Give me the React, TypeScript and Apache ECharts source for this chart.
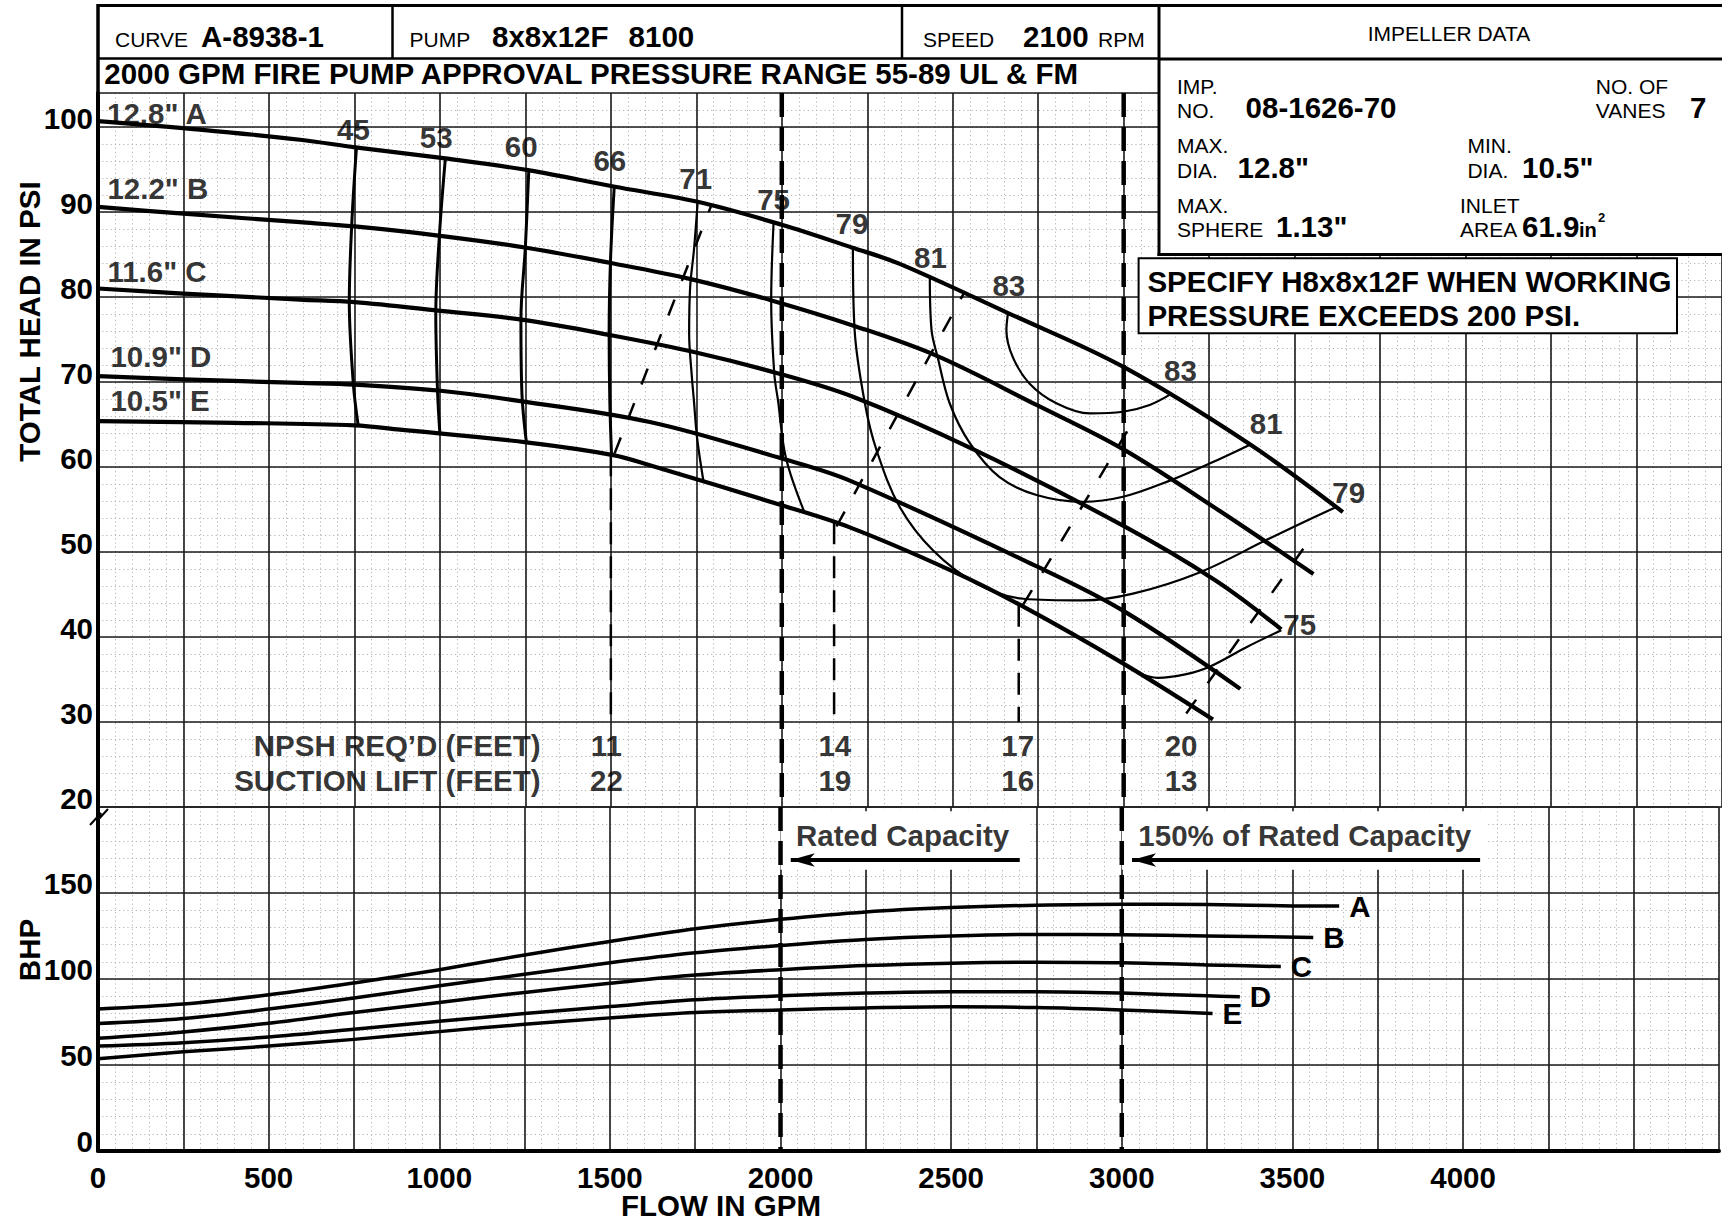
import React, { useEffect, useRef } from "react";
import * as echarts from "echarts";

const FONT = "'Liberation Sans', Arial, Helvetica, sans-serif";
const BOLD = 29.5;
const SMALL = 21;

// ---------------- data ----------------
const impellerNames = ["A", "B", "C", "D", "E"];
const impellerLabels = ['12.8" A', '12.2" B', '11.6" C', '10.9" D', '10.5" E'];
const impellerLabelPos = [[25, 101.6], [26, 92.75], [26, 83.05], [35, 73.05], [35, 67.85]];

// total head (psi) vs flow (gpm)
const headA = [[0, 100.7], [298, 99.7], [591, 98.5], [753, 97.6], [1016, 96.3], [1262, 94.9], [1508, 93.0], [1754, 91.2], [2000, 88.5], [2207, 85.8], [2345, 83.9], [2657, 78.2], [2998, 71.8], [3368, 62.7], [3641, 54.7]];
const headB = [[0, 90.6], [250, 89.8], [591, 88.8], [751, 88.3], [1001, 87.2], [1253, 85.8], [1500, 84.0], [1734, 82.1], [1970, 79.6], [2212, 76.6], [2452, 73.1], [2745, 67.3], [2998, 62.1], [3271, 55.1], [3555, 47.4]];
const headC = [[0, 81.0], [250, 80.4], [591, 79.7], [751, 79.4], [995, 78.4], [1244, 77.3], [1500, 75.5], [1746, 73.5], [1990, 71.0], [2212, 68.2], [2559, 62.1], [2998, 53.1], [3271, 46.6], [3461, 40.9]];
const headD = [[0, 70.7], [250, 70.3], [591, 69.9], [751, 69.7], [995, 69.0], [1210, 67.9], [1614, 65.3], [2000, 61.0], [2199, 58.4], [2746, 48.3], [2998, 43.1], [3341, 33.9]];
const headE = [[0, 65.4], [400, 65.2], [751, 64.9], [883, 64.4], [1253, 62.9], [1507, 61.4], [1614, 60.2], [2000, 55.5], [2199, 52.9], [2491, 47.9], [2705, 43.6], [2998, 36.9], [3261, 30.3]];
const headCurves = [headA, headB, headC, headD, headE];

// efficiency contours (%)
const eff45 = [[756, 97.6], [742, 88.4], [735, 79.4], [747, 69.7], [761, 64.9]];
const eff53 = [[1016, 96.3], [999, 87.5], [988, 78.0], [993, 69.0], [1000, 63.9]];
const eff60 = [[1260, 94.9], [1250, 85.9], [1237, 77.3], [1240, 68.6], [1253, 62.9]];
const eff66 = [[1510, 93.0], [1499, 84.3], [1495, 75.7], [1497, 67.8], [1502, 61.4]];
const eff71 = [[1754, 91.2], [1743, 85.5], [1732, 81.2], [1729, 75.7], [1737, 70.6], [1743, 67.8], [1752, 63.5], [1771, 58.3]];
const eff75L = [[1976, 88.8], [1969, 79.6], [1978, 71.0], [1989, 67.8], [2012, 61.1], [2067, 54.6]];
const eff75R = [[3040, 35.8], [3100, 35.2], [3180, 35.6], [3251, 36.5], [3359, 38.8], [3461, 40.8]];
const eff79 = [[2208, 85.7], [2213, 76.1], [2243, 67.5], [2277, 62.0], [2345, 55.3], [2442, 50.2], [2569, 46.3], [2706, 44.5], [2881, 44.3], [3027, 45.1], [3222, 47.6], [3417, 51.4], [3515, 53.3], [3622, 55.3]];
const eff81 = [[2433, 82.4], [2438, 76.1], [2456, 72.9], [2491, 67.5], [2550, 62.8], [2637, 58.8], [2745, 56.7], [2881, 55.9], [2998, 56.5], [3135, 58.4], [3251, 60.4], [3368, 62.6]];
const eff83 = [[2662, 78.2], [2657, 76.1], [2676, 72.9], [2725, 69.8], [2803, 67.5], [2901, 66.3], [2998, 66.5], [3076, 67.3], [3139, 68.6]];
const effHeavy = [eff45, eff53, eff60, eff66];
const effLight = [eff71, eff75L, eff75R, eff79, eff81, eff83];

const effLabels = ["45", "53", "60", "66", "71", "75", "79", "81", "83", "83", "81", "79", "75"];
const effLabelPos = [[747, 99.7], [989, 98.8], [1238, 97.75], [1497, 96.1], [1748, 93.9], [1976, 91.5], [2205, 88.6], [2435, 84.7], [2664, 81.4], [3166, 71.4], [3417, 65.1], [3658, 57.0], [3515, 41.5]];

// NPSH required lines
const npsh11 = [[1511, 61.6], [1794, 90.8]];
const npsh14 = [[2160, 53.0], [2532, 80.4]];
const npsh17 = [[2706, 43.8], [3040, 66.2]];
const npsh20 = [[3183, 31.0], [3554, 52.0]];
const npshDiagonals = [npsh11, npsh14, npsh17, npsh20];
const npshDrops = [[[1500, 61.5], [1500, 30]], [[2153, 53.5], [2153, 30]], [[2693, 43.8], [2693, 30]]];

const npshFlows = [1487, 2155, 2690, 3168];
const npshReq = ["11", "14", "17", "20"];
const suctionLift = ["22", "19", "16", "13"];
const npshRowHead = 27.2;
const liftRowHead = 23.1;
const rowTitles = ["NPSH REQ\u2019D (FEET)", "SUCTION LIFT (FEET)"];
const rowTitleFlow = 1296;

// rated capacity markers
const ratedFlows = [2000, 3000];
const capacityTexts = ["Rated Capacity", "150% of Rated Capacity"];
const capacityTextPos = [[2044, 183.3], [3047, 183.3]];
const capacityArrows = [[2701, 2030, 169.2], [4050, 3030, 169.2]]; // from, to, bhp
const capacityBoxes = [[2000, 197.5, 2725, 163.5], [3000, 197.5, 4070, 163.5]];

// brake horsepower vs flow
const bhpA = [[0, 82.5], [250, 85.4], [500, 90.8], [750, 97.7], [1000, 105.4], [1250, 114.0], [1500, 121.8], [1750, 129.2], [2000, 134.7], [2250, 139.0], [2500, 141.5], [2750, 142.9], [3000, 143.5], [3250, 143.3], [3500, 142.5], [3637, 142.4]];
const bhpB = [[0, 74.1], [250, 77.0], [500, 82.5], [750, 88.9], [1000, 96.1], [1250, 102.7], [1500, 109.4], [1750, 115.2], [2000, 119.5], [2250, 123.0], [2500, 125.0], [2750, 125.9], [3000, 125.7], [3250, 125.0], [3561, 124.2]];
const bhpC = [[0, 65.5], [250, 69.2], [500, 74.3], [750, 80.5], [1000, 86.4], [1250, 92.2], [1500, 97.5], [1750, 102.3], [2000, 105.4], [2250, 107.8], [2500, 109.2], [2750, 109.7], [3000, 109.4], [3250, 108.2], [3466, 107.2]];
const bhpD = [[0, 61.0], [250, 63.0], [500, 66.3], [750, 70.8], [1000, 75.4], [1250, 79.9], [1500, 84.0], [1750, 87.9], [2000, 90.2], [2250, 91.8], [2500, 92.6], [2750, 92.6], [3000, 91.8], [3250, 90.2], [3346, 89.7]];
const bhpE = [[0, 53.6], [250, 57.7], [500, 61.0], [750, 64.9], [1000, 69.4], [1250, 73.7], [1500, 77.4], [1750, 80.5], [2000, 82.0], [2250, 83.2], [2500, 83.8], [2750, 83.4], [3000, 82.0], [3266, 79.9]];
const bhpCurves = [bhpA, bhpB, bhpC, bhpD, bhpE];

// axes
const flowMin = 0, flowMax = 4750, flowMajor = 250, flowMinor = 50, flowLabelStep = 500, flowLabelMax = 4000;
const headMin = 20, headMax = 104, headMajor = 10, headMinor = 2, headLabelMax = 100;
const bhpMin = 0, bhpMax = 200, bhpMajor = 50, bhpMinor = 10, bhpLabelMax = 150;

// ---------------- option ----------------
const boldLabel = { color: "#000", fontFamily: FONT, fontWeight: "bold", fontSize: BOLD };
const majorSplit = { show: true, lineStyle: { color: "#1a1a1a", width: 1.6 } };
const minorSplit = { show: true, lineStyle: { color: "#b4b4b4", width: 1, type: [1.2, 3] } };
const hidden = { axisLine: { show: false }, axisTick: { show: false }, axisLabel: { show: false } };

function curve(data: number[][], width: number, xi: number, yi: number, dash?: number[], z = 5): any {
  return {
    type: "line", data, xAxisIndex: xi, yAxisIndex: yi, symbol: "none", showSymbol: false,
    smooth: 0.35, silent: true, z, animation: false,
    lineStyle: { color: "#000", width, type: dash || "solid", cap: "butt", join: "round" },
  };
}

function labels(pts: number[][], texts: string[], xi: number, yi: number, position: string, extra: any = {}): any {
  return {
    type: "scatter", xAxisIndex: xi, yAxisIndex: yi, symbolSize: 1, silent: true, z: 10, animation: false,
    itemStyle: { color: "rgba(0,0,0,0)" },
    data: pts.map((p, i) => ({ value: p, name: texts[i] })),
    label: { show: true, position, distance: 0, formatter: "{b}", ...boldLabel, ...extra },
  };
}

function buildGraphic(): any[] {
  const g: any[] = [];
  const Z = 100;
  const text = (t: string, x: number, y: number, size: number, bold: boolean, align = "left", rot = 0, lh = size) =>
    g.push({
      type: "text", x, y, rotation: rot, z: Z + 2, silent: true,
      style: { text: t, fontSize: size, lineHeight: lh, fontWeight: bold ? "bold" : "normal", fontFamily: FONT, fill: "#000", align, verticalAlign: "middle" },
    });
  const ln = (x1: number, y1: number, x2: number, y2: number, w: number) =>
    g.push({ type: "line", z: Z + 1, silent: true, shape: { x1, y1, x2, y2 }, style: { stroke: "#000", lineWidth: w } });

  // impeller box background
  g.push({ type: "rect", z: Z, silent: true, shape: { x: 1159, y: 5.5, width: 563, height: 249 }, style: { fill: "#fff" } });
  // header frame
  ln(97, 5.5, 1722, 5.5, 3);
  ln(98, 4, 98, 94, 3.5);
  ln(97, 58.5, 1159, 58.5, 2.5);
  ln(392.5, 5.5, 392.5, 58.5, 2.5);
  ln(902, 5.5, 902, 58.5, 2.5);
  ln(1159, 4, 1159, 256, 3);
  ln(1159, 59, 1722, 59, 3);
  ln(1157.5, 254.5, 1722, 254.5, 3);

  text("CURVE", 115, 39.5, SMALL, false);
  text("A-8938-1", 201, 36.3, BOLD, true);
  text("PUMP", 409.6, 39.5, SMALL, false);
  text("8x8x12F", 492, 36.3, BOLD, true);
  text("8100", 628.6, 36.3, BOLD, true);
  text("SPEED", 923, 39.5, SMALL, false);
  text("2100", 1023, 36.3, BOLD, true);
  text("RPM", 1098, 39.5, SMALL, false);
  text("2000 GPM FIRE PUMP APPROVAL PRESSURE RANGE 55-89 UL & FM", 104.3, 73.5, BOLD, true);

  text("IMPELLER DATA", 1449, 33, SMALL, false, "center");
  text("IMP.", 1177, 86, SMALL, false);
  text("NO.", 1177, 110.5, SMALL, false);
  text("08-1626-70", 1245.6, 107.3, BOLD, true);
  text("NO. OF", 1595.8, 86, SMALL, false);
  text("VANES", 1595.8, 110.5, SMALL, false);
  text("7", 1690, 107.3, BOLD, true);
  text("MAX.", 1177, 145.5, SMALL, false);
  text("DIA.", 1177, 170.5, SMALL, false);
  text('12.8"', 1237.6, 167.3, BOLD, true);
  text("MIN.", 1467.4, 145.5, SMALL, false);
  text("DIA.", 1467.4, 170.5, SMALL, false);
  text('10.5"', 1522, 167.3, BOLD, true);
  text("MAX.", 1177, 205, SMALL, false);
  text("SPHERE", 1177, 229.5, SMALL, false);
  text('1.13"', 1276, 226.3, BOLD, true);
  text("INLET", 1460, 205, SMALL, false);
  text("AREA", 1460, 229.5, SMALL, false);
  text("61.9", 1522, 226.3, BOLD, true);
  text("in", 1579, 230, 20, true);
  text("2", 1598, 217.5, 13, true);

  // specify box
  g.push({ type: "rect", z: Z, silent: true, shape: { x: 1138.6, y: 258.3, width: 538.4, height: 75 }, style: { fill: "#fff", stroke: "#000", lineWidth: 2 } });
  text("SPECIFY H8x8x12F WHEN WORKING", 1147.4, 281.7, BOLD, true);
  text("PRESSURE EXCEEDS 200 PSI.", 1147.4, 315, BOLD, true);

  // axis titles
  text("TOTAL HEAD IN PSI", 29, 321.5, BOLD, true, "center", Math.PI / 2);
  text("BHP", 29, 950, BOLD, true, "center", Math.PI / 2);
  text("FLOW IN GPM", 721, 1205, BOLD, true, "center", 0, 22);

  // axis break mark
  g.push({ type: "polyline", z: Z + 1, silent: true, shape: { points: [[90, 825], [101, 813], [97, 821], [108, 809]] }, style: { stroke: "#000", lineWidth: 2, fill: null } });
  return g;
}

function buildOption(): any {
  const series: any[] = [];

  // white boxes + arrows for capacity notes (BHP grid)
  series.push({
    type: "line", xAxisIndex: 2, yAxisIndex: 2, data: [], silent: true, z: 3, animation: false,
    markArea: {
      silent: true, itemStyle: { color: "#fff", opacity: 1, borderWidth: 0 },
      data: capacityBoxes.map((b) => [{ coord: [b[0], b[1]] }, { coord: [b[2], b[3]] }]),
    },
    markLine: {
      silent: true, symbol: ["none", "arrow"], symbolSize: [10, 24], animation: false,
      label: { show: false },
      lineStyle: { color: "#000", width: 4, type: "solid" },
      data: capacityArrows.map((a) => [{ coord: [a[0], a[2]] }, { coord: [a[1], a[2]] }]),
    },
  });

  headCurves.forEach((c) => series.push(curve(c, 4.2, 0, 0)));
  effHeavy.forEach((c) => series.push(curve(c, 3, 0, 0)));
  effLight.forEach((c) => series.push(curve(c, 2.2, 0, 0)));
  npshDiagonals.forEach((c) => series.push({ ...curve(c, 2.5, 0, 0, [17, 20]), smooth: false }));
  npshDrops.forEach((c) => series.push({ ...curve(c, 2.5, 0, 0, [22, 12]), smooth: false }));
  ratedFlows.forEach((f) => {
    series.push({ ...curve([[f, headMax], [f, headMin]], 4.5, 0, 0, [24, 10], 6), smooth: false });
    series.push({ ...curve([[f, bhpMax], [f, bhpMin]], 4.5, 2, 2, [24, 10], 6), smooth: false });
  });

  bhpCurves.forEach((c, i) => {
    const s = curve(c, 3.5, 2, 2);
    s.name = impellerNames[i];
    s.endLabel = { show: true, formatter: "{a}", distance: 10, ...boldLabel };
    series.push(s);
  });

  series.push(labels(impellerLabelPos, impellerLabels, 0, 0, "right"));
  series.push(labels(effLabelPos, effLabels, 0, 0, "inside"));
  series.push(labels(npshFlows.map((f) => [f, npshRowHead]), npshReq, 0, 0, "inside"));
  series.push(labels(npshFlows.map((f) => [f, liftRowHead]), suctionLift, 0, 0, "inside"));
  series.push(labels([[rowTitleFlow, npshRowHead], [rowTitleFlow, liftRowHead]], rowTitles, 0, 0, "left"));
  series.push(labels(capacityTextPos, capacityTexts, 2, 2, "right"));

  return {
    animation: false,
    backgroundColor: "#fff",
    grid: [
      { left: 98, right: 0, top: 93, height: 714 },
      { left: 98, right: 0, top: 807, height: 344 },
    ],
    xAxis: [
      { gridIndex: 0, type: "value", min: flowMin, max: flowMax, interval: flowMajor, ...hidden, splitLine: majorSplit, z: 1 },
      { gridIndex: 0, type: "value", min: flowMin, max: flowMax, interval: flowMinor, ...hidden, splitLine: minorSplit, z: 0 },
      {
        gridIndex: 1, type: "value", min: flowMin, max: flowMax, interval: flowMajor, z: 1,
        axisLine: { show: true, onZero: false, lineStyle: { color: "#000", width: 4 } },
        axisTick: { show: false }, splitLine: majorSplit,
        axisLabel: {
          show: true, margin: 15, lineHeight: 23, verticalAlign: "top", showMinLabel: true, ...boldLabel,
          formatter: (v: number) => (v % flowLabelStep === 0 && v <= flowLabelMax ? String(v) : ""),
        },
      },
      { gridIndex: 1, type: "value", min: flowMin, max: flowMax, interval: flowMinor, ...hidden, splitLine: minorSplit, z: 0 },
    ],
    yAxis: [
      {
        gridIndex: 0, type: "value", min: headMin, max: headMax, interval: headMajor, z: 1,
        axisLine: { show: true, onZero: false, lineStyle: { color: "#000", width: 4 } },
        axisTick: { show: false }, splitLine: majorSplit,
        axisLabel: {
          show: true, margin: 5, lineHeight: 18, verticalAlign: "bottom", showMinLabel: true, ...boldLabel,
          formatter: (v: number) => (v % headMajor === 0 && v <= headLabelMax ? String(v) : ""),
        },
      },
      { gridIndex: 0, type: "value", min: headMin, max: headMax, interval: headMinor, ...hidden, splitLine: minorSplit, z: 0 },
      {
        gridIndex: 1, type: "value", min: bhpMin, max: bhpMax, interval: bhpMajor, z: 1,
        axisLine: { show: true, onZero: false, lineStyle: { color: "#000", width: 4 } },
        axisTick: { show: false }, splitLine: majorSplit,
        axisLabel: {
          show: true, margin: 5, lineHeight: 20, verticalAlign: "bottom", showMinLabel: true, ...boldLabel,
          formatter: (v: number) => (v <= bhpLabelMax ? String(v) : ""),
        },
      },
      { gridIndex: 1, type: "value", min: bhpMin, max: bhpMax, interval: bhpMinor, ...hidden, splitLine: minorSplit, z: 0 },
    ],
    series,
    graphic: { elements: buildGraphic() },
  };
}

export default function App() {
  const ref = useRef<HTMLDivElement>(null);
  useEffect(() => {
    document.body.style.margin = "0";
    const chart = echarts.init(ref.current as HTMLDivElement, null, { renderer: "svg", width: 1722, height: 1220 });
    chart.setOption(buildOption());
    return () => chart.dispose();
  }, []);
  return <div ref={ref} style={{ position: "absolute", left: 0, top: 0, width: 1722, height: 1220, background: "#fff" }} />;
}
